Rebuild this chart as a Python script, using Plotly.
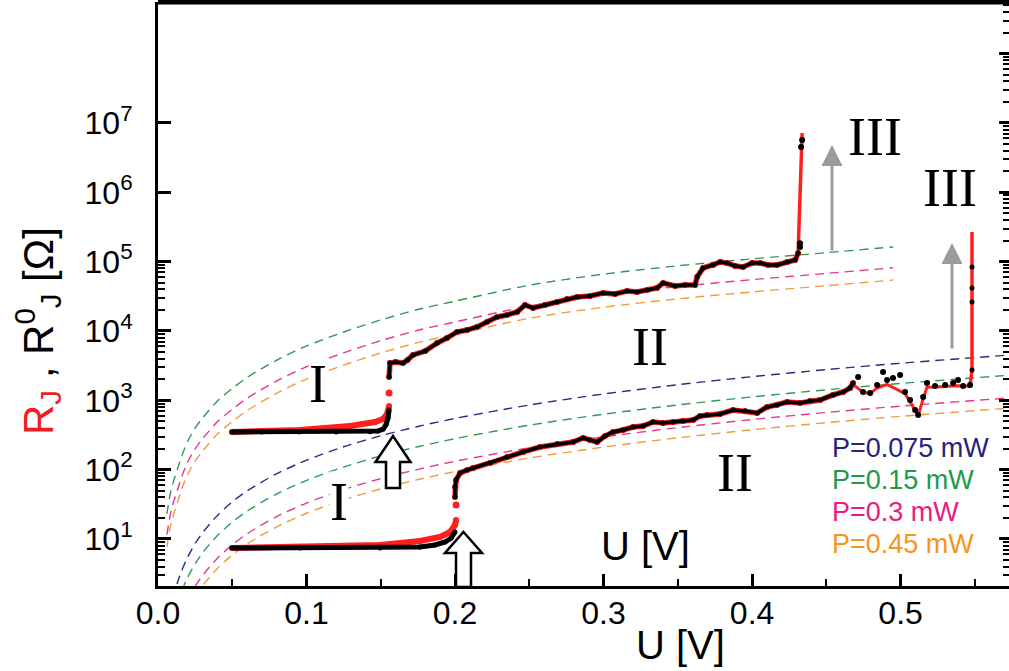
import plotly.graph_objects as go

# ---------------- layout geometry (pixels) ----------------
W, H = 1009, 671
ML, MR, MT, MB = 158, 0, 2, 85
PW = W - ML - MR
PH = H - MT - MB

SANS = "Liberation Sans, Arial, sans-serif"
SERIF = "Liberation Serif, Times New Roman, serif"

def fx(xpix):
    return (xpix - ML) / PW

def fy(ypix):
    return (H - MB - ypix) / PH

# ---------------- axes ----------------
X_RANGE = [0.0, 0.573]
X_TICKS = [0.0, 0.1, 0.2, 0.3, 0.4, 0.5]
X_TICKTEXT = ["0.0", "0.1", "0.2", "0.3", "0.4", "0.5"]
X_MINOR = [0.05, 0.15, 0.25, 0.35, 0.45, 0.55]
Y_RANGE_LOG = [0.322, 8.745]
Y_TICKS = [1e1, 1e2, 1e3, 1e4, 1e5, 1e6, 1e7]
Y_TICKTEXT = ["10<sup>1</sup>", "10<sup>2</sup>", "10<sup>3</sup>", "10<sup>4</sup>",
              "10<sup>5</sup>", "10<sup>6</sup>", "10<sup>7</sup>"]
Y_MINOR_LEFT = [m * 10 ** k for k in range(0, 5) for m in range(2, 10)]
Y_TICKS_RIGHT = [1e1, 1e2, 1e3, 1e4, 1e5, 1e6, 1e7, 1e8]
Y_MINOR_RIGHT = [m * 10 ** k for k in range(0, 9) for m in range(2, 10)]

# ---------------- dashed model curves (upper set) ----------------
U_SET_TOP = [0.006, 0.008, 0.010, 0.013, 0.016, 0.020, 0.025, 0.030, 0.040, 0.050, 0.060,
             0.080, 0.100, 0.125, 0.150, 0.175, 0.200, 0.250, 0.300, 0.350, 0.400, 0.450, 0.495]
R_TOP_P015 = [23, 42, 63, 100, 158, 257, 398, 556, 977, 1479, 2138,
              3802, 6081, 9661, 14450, 20420, 26920, 45710, 66070, 87100, 109600, 134900, 162900]
R_TOP_P03 = [11.6, 20.9, 31.6, 50.1, 79.4, 129, 200, 279, 490, 741, 1072,
             1905, 3048, 4842, 7244, 10230, 13490, 22910, 33110, 43650, 54950, 67610, 81660]
R_TOP_P045 = [7.7, 13.9, 21.0, 33.3, 52.8, 85.7, 133, 185, 326, 493, 713,
              1268, 2028, 3221, 4819, 6808, 8977, 15240, 22030, 29040, 36560, 44980, 54330]

# ---------------- dashed model curves (lower set) ----------------
U_SET_BOT = [0.010, 0.013, 0.016, 0.020, 0.025, 0.030, 0.040, 0.050, 0.060, 0.080, 0.100,
             0.125, 0.150, 0.175, 0.200, 0.250, 0.300, 0.350, 0.400, 0.450, 0.500, 0.575]
R_BOT_P0075 = [1.37, 2.32, 3.51, 5.48, 8.56, 12.3, 21.9, 34.3, 49.3, 87.7, 137,
               214, 308, 420, 548, 856, 1233, 1678, 2192, 2774, 3425, 4530]
R_BOT_P015 = [0.70, 1.18, 1.79, 2.80, 4.38, 6.30, 11.2, 17.5, 25.2, 44.8, 70.0,
              109, 158, 214, 280, 438, 630, 858, 1120, 1418, 1750, 2314]
R_BOT_P03 = [0.33, 0.56, 0.84, 1.32, 2.06, 2.97, 5.28, 8.25, 11.9, 21.1, 33.0,
             51.6, 74.3, 101, 132, 206, 297, 404, 528, 668, 825, 1091]
R_BOT_P045 = [0.235, 0.40, 0.60, 0.94, 1.47, 2.12, 3.76, 5.88, 8.46, 15.0, 23.5,
              36.7, 52.9, 72.0, 94.0, 147, 212, 288, 376, 476, 588, 777]

# ---------------- measured data, upper junction ----------------
U_TOP_I_BLACK = [0.0498, 0.070, 0.095, 0.120, 0.1428, 0.1481, 0.1515, 0.1535, 0.1549, 0.1556]
R_TOP_I_BLACK = [349, 349, 349, 349, 352, 361, 385, 443, 556, 724]
U_TOP_I_RED = [0.0498, 0.0956, 0.1293, 0.1461, 0.1515, 0.1542, 0.1556]
R_TOP_I_RED = [349, 373, 427, 487, 537, 634, 828]
U_TOP_JUMP_RED = [0.1556]
R_TOP_JUMP_RED = [1276]
U_TOP_II = [0.1556, 0.1562, 0.160, 0.165, 0.168, 0.1717, 0.180, 0.1879, 0.1946, 0.2013, 0.2081,
            0.2148, 0.2215, 0.2283, 0.235, 0.2418, 0.2471, 0.2525, 0.2606, 0.2687, 0.2754,
            0.2822, 0.2909, 0.2997, 0.3077, 0.3158, 0.3226, 0.3293, 0.336, 0.3401, 0.3481,
            0.3549, 0.3616, 0.363, 0.367, 0.3737, 0.3785, 0.3832, 0.3886, 0.3939, 0.40,
            0.4054, 0.4108, 0.4168, 0.4236, 0.4290, 0.431]
R_TOP_II = [2170, 3451, 3571, 3451, 3817, 4508, 5145, 6710, 7925, 9670, 10330,
            11420, 13490, 15920, 17020, 18800, 23710, 21470, 23710, 26180, 28920,
            30900, 31980, 35320, 34190, 37760, 36510, 39000, 41690, 49200, 44570,
            46030, 46030, 60100, 81100, 89600, 98900, 95700, 86500, 83700, 95700,
            95700, 89600, 89600, 98900, 105700, 133300]
U_TOP_III_RED = [0.431, 0.4323, 0.4330, 0.4337]
R_TOP_III_RED = [133300, 1.0e6, 4.0e6, 7.18e6]
U_TOP_III_BLACK = [0.4323, 0.4323, 0.4330, 0.4337]
R_TOP_III_BLACK = [162500, 185000, 4.51e6, 5.69e6]

# ---------------- measured data, lower junction ----------------
U_BOT_I_BLACK = [0.0498, 0.0956, 0.1495, 0.1764, 0.1865, 0.1933, 0.1973, 0.2000]
R_BOT_I_BLACK = [7.41, 7.41, 7.41, 7.66, 8.19, 9.05, 10.3, 12.6]
U_BOT_I_RED = [0.0498, 0.0956, 0.1495, 0.1764, 0.1899, 0.1966, 0.2000, 0.2007]
R_BOT_I_RED = [7.41, 7.66, 8.19, 9.35, 10.7, 12.6, 15.9, 18.8]
U_BOT_JUMP_RED = [0.2007]
R_BOT_JUMP_RED = [30.9]
U_BOT_II = [0.2000, 0.2000, 0.2007, 0.2034, 0.2081, 0.2121, 0.2236, 0.2350, 0.2458, 0.2572,
            0.2687, 0.2795, 0.2862, 0.2909, 0.2956, 0.3010, 0.3064, 0.3131, 0.3199, 0.3266,
            0.3333, 0.3401, 0.3468, 0.3535, 0.3603, 0.3650, 0.3697, 0.3785, 0.3872, 0.3953,
            0.4034, 0.4101, 0.4168, 0.4236, 0.4323, 0.4390, 0.4458, 0.4545, 0.4613, 0.4660,
            0.4680]
R_BOT_II = [40.4, 56.2, 71.0, 89.5, 98.9, 105.7, 124.8, 152.4, 179.9, 212.3,
            234.4, 250.6, 286.4, 267.9, 250.6, 305.9, 349.2, 373.3, 412.1, 426.6,
            486.6, 470.8, 486.6, 503.5, 520.0, 594.3, 614.0, 635.0, 724.6, 701.4,
            656.6, 801.6, 855.1, 945.3, 914.4, 977.5, 1011, 1194, 1318, 1507,
            1778]
U_BOT_SCAT = [0.4714, 0.4747, 0.4795, 0.4842, 0.4882, 0.4909, 0.4949, 0.4997, 0.5030, 0.5064,
              0.5098, 0.5118, 0.5152, 0.5178, 0.5232, 0.5300, 0.5354, 0.5387, 0.5421, 0.5468]
R_BOT_SCAT = [2168, 1318, 1276, 1663, 2566, 1963, 2099, 2318, 1318, 1011,
              724.6, 614, 1117, 1778, 1611, 1663, 1778, 1963, 1611, 1663]
U_BOT_RED_TAIL = [0.4680, 0.4747, 0.4795, 0.4842, 0.4909, 0.5030, 0.5064, 0.5098, 0.5118,
                  0.5152, 0.5178, 0.5232, 0.5300, 0.5387, 0.5468]
R_BOT_RED_TAIL = [1700, 1300, 1260, 1500, 1700, 1250, 950, 700, 600,
                  1050, 1550, 1560, 1580, 1620, 1600]
U_BOT_III_RED = [0.5468, 0.5481, 0.5481]
R_BOT_III_RED = [1600, 2738, 2.68e5]
U_BOT_III_BLACK = [0.5481, 0.5481, 0.5481, 0.5481]
R_BOT_III_BLACK = [2738, 26180, 41690, 83700]

# ---------------- colours ----------------
C_NAVY = "#2a2a86"
C_GREEN = "#2f9a4f"
C_MAGENTA = "#e8368f"
C_ORANGE = "#f29a35"
C_RED = "#ff1f1f"
C_BLACK = "#000000"

LEGEND_LABELS = ["P=0.075 mW", "P=0.15 mW", "P=0.3 mW", "P=0.45 mW"]
LEGEND_COLORS = ["#27237d", "#1f9a48", "#ea1a80", "#f7941d"]

fig = go.Figure()

def dashed(x, y, color):
    fig.add_trace(go.Scatter(x=x, y=y, mode="lines",
                             line=dict(color=color, width=1.4, dash="9px,6px", shape="spline", smoothing=0.8),
                             hoverinfo="skip", showlegend=False))

dashed(U_SET_TOP, R_TOP_P015, C_GREEN)
dashed(U_SET_TOP, R_TOP_P03, C_MAGENTA)
dashed(U_SET_TOP, R_TOP_P045, C_ORANGE)
dashed(U_SET_BOT, R_BOT_P0075, C_NAVY)
dashed(U_SET_BOT, R_BOT_P015, C_GREEN)
dashed(U_SET_BOT, R_BOT_P03, C_MAGENTA)
dashed(U_SET_BOT, R_BOT_P045, C_ORANGE)

def line_tr(x, y, color, width, msize=0, mode="lines+markers"):
    fig.add_trace(go.Scatter(x=x, y=y, mode=mode, line=dict(color=color, width=width),
                             marker=dict(color=color, size=msize), hoverinfo="skip", showlegend=False))

# red (R_J) under black (R0_J)
line_tr(U_TOP_I_RED, R_TOP_I_RED, C_RED, 6, 6)
line_tr(U_TOP_JUMP_RED, R_TOP_JUMP_RED, C_RED, 0, 7, mode="markers")
line_tr(U_TOP_II, R_TOP_II, C_RED, 5.5, 6)
line_tr(U_TOP_III_RED, R_TOP_III_RED, C_RED, 3.5, 0, mode="lines")
line_tr(U_BOT_I_RED, R_BOT_I_RED, C_RED, 6, 6)
line_tr(U_BOT_JUMP_RED, R_BOT_JUMP_RED, C_RED, 0, 7, mode="markers")
line_tr(U_BOT_II, R_BOT_II, C_RED, 5.5, 6)
line_tr(U_BOT_RED_TAIL, R_BOT_RED_TAIL, C_RED, 3, 0, mode="lines")
line_tr(U_BOT_III_RED, R_BOT_III_RED, C_RED, 3.5, 0, mode="lines")

line_tr(U_TOP_I_BLACK, R_TOP_I_BLACK, C_BLACK, 5, 5)
line_tr(U_TOP_II, R_TOP_II, C_BLACK, 3.5, 5)
line_tr(U_TOP_III_BLACK, R_TOP_III_BLACK, C_BLACK, 0, 6, mode="markers")
line_tr(U_BOT_I_BLACK, R_BOT_I_BLACK, C_BLACK, 5, 5)
line_tr(U_BOT_II, R_BOT_II, C_BLACK, 3.5, 5)
line_tr(U_BOT_SCAT, R_BOT_SCAT, C_BLACK, 0, 6, mode="markers")
line_tr(U_BOT_III_BLACK, R_BOT_III_BLACK, C_BLACK, 0, 5, mode="markers")

# empty trace to activate the right-hand mirror axis
fig.add_trace(go.Scatter(x=[], y=[], yaxis="y2", hoverinfo="skip", showlegend=False))

annotations = []

def text(xpix, ypix, s, size, family, color="black", bg=None, xanchor="center"):
    d = dict(x=fx(xpix), y=fy(ypix), xref="paper", yref="paper", text=s, showarrow=False,
             font=dict(family=family, size=size, color=color), xanchor=xanchor, yanchor="middle")
    if bg:
        d["bgcolor"] = bg
        d["borderpad"] = 0
    annotations.append(d)

text(318, 384, "I", 54, SERIF, bg="white")
text(339, 502, "I", 54, SERIF, bg="white")
text(650, 347, "II", 54, SERIF)
text(735, 473, "II", 54, SERIF)
text(875, 137, "III", 54, SERIF)
text(950, 188, "III", 54, SERIF)
text(645, 546, "U [V]", 40, SANS)
text(680, 645, "U [V]", 40, SANS)
for i, (lab, col) in enumerate(zip(LEGEND_LABELS, LEGEND_COLORS)):
    text(830, 448 + 32 * i, lab, 27, SANS, color=col, xanchor="left")

# y-axis title
annotations.append(dict(x=fx(37), y=fy(331), xref="paper", yref="paper", showarrow=False, textangle=-90,
                        text='<span style="color:#ee1c25">R<sub>J</sub></span> , R<sup>0</sup><sub>J</sub> [\u03a9]',
                        font=dict(family=SANS, size=42, color="black"), xanchor="center", yanchor="middle"))

# grey arrows (regime III)
for (xa, ytip, ytail) in [(832, 145, 252), (952, 243, 350)]:
    annotations.append(dict(x=fx(xa), y=fy(ytip), xref="paper", yref="paper", text="", showarrow=True,
                            ax=0, ay=ytail - ytip, arrowhead=2, arrowsize=1.4, arrowwidth=3,
                            arrowcolor="#9b9b9b"))

# hollow up arrows marking the transitions
def hollow_arrow(xc, ytip, ybase, ybottom, half_head, half_shaft):
    pts = [(xc, ytip), (xc + half_head, ybase), (xc + half_shaft, ybase), (xc + half_shaft, ybottom),
           (xc - half_shaft, ybottom), (xc - half_shaft, ybase), (xc - half_head, ybase)]
    path = "M " + " L ".join(f"{fx(a):.5f},{fy(b):.5f}" for a, b in pts) + " Z"
    return dict(type="path", xref="paper", yref="paper", path=path, fillcolor="white",
                line=dict(color="black", width=2.5), layer="above")

shapes = [
    hollow_arrow(393, 436, 462, 488, 17.5, 7),
    hollow_arrow(463.5, 532, 553, 587, 18.5, 7.5),
    dict(type="line", xref="paper", yref="paper", x0=0, x1=1, y0=1, y1=1,
         line=dict(color="black", width=5)),
]

fig.update_layout(
    width=W, height=H, margin=dict(l=ML, r=MR, t=MT, b=MB, autoexpand=False),
    plot_bgcolor="white", paper_bgcolor="white", showlegend=False,
    xaxis=dict(range=X_RANGE, tickmode="array", tickvals=X_TICKS, ticktext=X_TICKTEXT,
               ticks="inside", ticklen=12, tickwidth=2.5, tickcolor="black",
               showline=True, linewidth=3, linecolor="black", showgrid=False, zeroline=False,
               tickfont=dict(family=SANS, size=32, color="black"), ticklabelstandoff=-3,
               minor=dict(tickvals=X_MINOR, ticks="inside", ticklen=7, tickwidth=2, tickcolor="black", showgrid=False)),
    yaxis=dict(type="log", range=Y_RANGE_LOG, tickmode="array", tickvals=Y_TICKS, ticktext=Y_TICKTEXT,
               ticks="inside", ticklen=13, tickwidth=2.5, tickcolor="black",
               showline=True, linewidth=3, linecolor="black", showgrid=False, zeroline=False,
               tickfont=dict(family=SANS, size=32, color="black"), ticklabelstandoff=16,
               minor=dict(tickvals=Y_MINOR_LEFT, ticks="inside", ticklen=7, tickwidth=2, tickcolor="black", showgrid=False)),
    yaxis2=dict(type="log", range=Y_RANGE_LOG, overlaying="y", side="right", anchor="x",
                tickmode="array", tickvals=Y_TICKS_RIGHT, showticklabels=False,
                ticks="inside", ticklen=10, tickwidth=2.5, tickcolor="black",
                showline=False, showgrid=False, zeroline=False,
                minor=dict(tickvals=Y_MINOR_RIGHT, ticks="inside", ticklen=6, tickwidth=2, tickcolor="black", showgrid=False)),
    annotations=annotations,
    shapes=shapes,
)

fig.write_html("out.html", config={"displayModeBar": False},
               post_script="document.body.style.margin='0px';document.body.style.overflow='hidden';")
